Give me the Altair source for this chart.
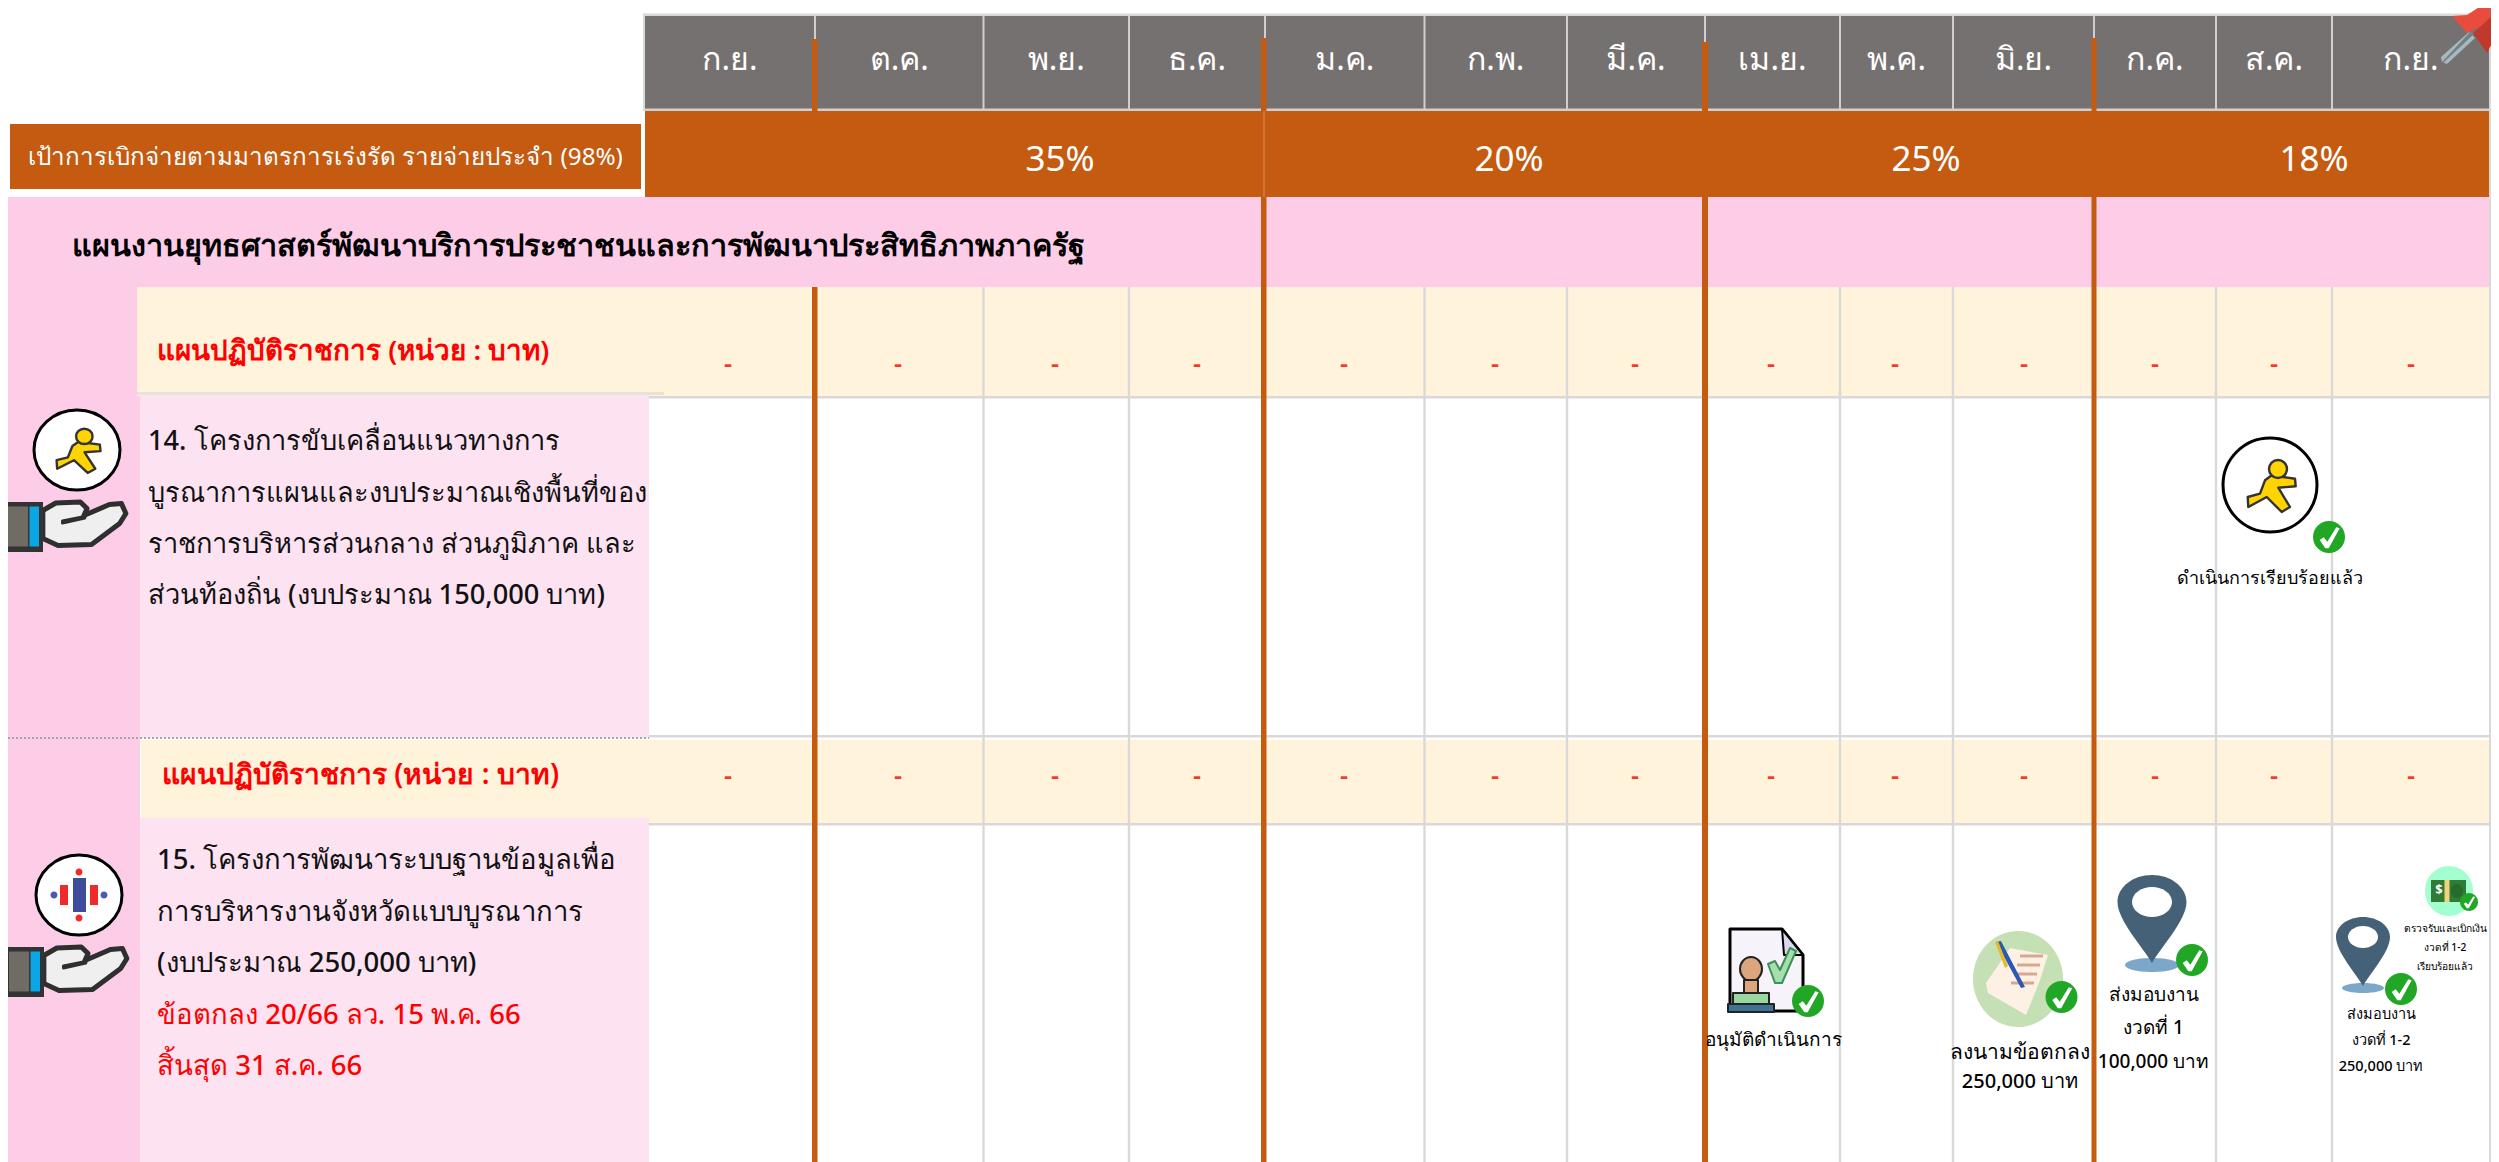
import altair as alt
import pandas as pd

# ---------- values ----------
MONTHS = ["ก.ย.", "ต.ค.", "พ.ย.", "ธ.ค.", "ม.ค.", "ก.พ.", "มี.ค.", "เม.ย.", "พ.ค.", "มิ.ย.", "ก.ค.", "ส.ค.", "ก.ย."]
QUARTER_TARGETS = ["35%", "20%", "25%", "18%"]
TARGET_LABEL = "เป้าการเบิกจ่ายตามมาตรการเร่งรัด รายจ่ายประจำ (98%)"
PLAN_TITLE = "แผนงานยุทธศาสตร์พัฒนาบริการประชาชนและการพัฒนาประสิทธิภาพภาครัฐ"
ROW_LABEL = "แผนปฏิบัติราชการ (หน่วย : บาท)"
MONTHLY_PLAN = ["-"] * 13
PROJECT_14 = ["14. โครงการขับเคลื่อนแนวทางการ", "บูรณาการแผนและงบประมาณเชิงพื้นที่ของ",
              "ราชการบริหารส่วนกลาง ส่วนภูมิภาค และ", "ส่วนท้องถิ่น (งบประมาณ 150,000 บาท)"]
PROJECT_15 = ["15. โครงการพัฒนาระบบฐานข้อมูลเพื่อ", "การบริหารงานจังหวัดแบบบูรณาการ", "(งบประมาณ 250,000 บาท)"]
PROJECT_15_RED = ["ข้อตกลง 20/66 ลว. 15 พ.ค. 66", "สิ้นสุด 31 ส.ค. 66"]

# ---------- layout of the table (page pixels) ----------
EDGES = [645, 815, 983.5, 1129, 1265, 1424.5, 1567, 1705, 1840, 1953, 2094, 2216, 2332, 2490]
DASH_X = [728, 898, 1055, 1197, 1344, 1495, 1635, 1771, 1895, 2024, 2155, 2274, 2411]
TARGET_X = [1060, 1509, 1926, 2314]
GREY_X = [983.5, 1129, 1424.5, 1567, 1840, 1953, 2216, 2332]

GREY, ORANGE, PINK, LPINK, CREAM, LINE, HLINE = "#767171", "#C55A11", "#FDCDE8", "#FDE3F1", "#FFF3DC", "#D9D9D9", "#D0CECE"
RED, GREEN = "#FF0000", "#21A625"
FONT = "Noto Sans"

rects = []
def R(x, x2, y, y2, c):
    rects.append(dict(x=x, x2=x2, y=y, y2=y2, c=c))

R(645, 2489, 16, 109, GREY)
R(645, 2489, 111, 197, ORANGE)
R(10, 641, 124, 189, ORANGE)
R(8, 2489, 197, 287, PINK)
R(8, 140, 287, 1162, PINK)
R(137, 2489, 287, 396, CREAM)
R(141, 2489, 740, 823, CREAM)
R(649, 2489, 396, 398.5, LINE)
R(649, 2489, 735, 737.5, LINE)
R(649, 2489, 823, 825.5, LINE)
for gx in GREY_X:
    R(gx - 1.2, gx + 1.2, 287, 1162, LINE)
R(137, 664, 392, 395, "#E7E3DA")
R(140, 649, 395, 738, LPINK)
R(140, 649, 818, 1162, LPINK)
R(2489, 2491, 197, 1162, LINE)
R(643, 2491, 13.5, 16, LINE)
R(643, 645, 13.5, 111, LINE)
R(2489, 2491, 13.5, 200, LINE)
R(645, 2489, 108.5, 111, HLINE)
for e in EDGES[1:-1]:
    R(e - 1, e + 1, 16, 110, HLINE)
R(815 - 3, 815 + 2.5, 39, 111, ORANGE)
R(815 - 3, 815 + 2.5, 287, 1162, ORANGE)
R(1264 - 3, 1264 + 2.5, 38, 111, ORANGE)
R(1264 - 3, 1264 + 2.5, 197, 1162, ORANGE)
R(1264 - .6, 1264 + .6, 111, 197, "#D9854E")
R(1705 - 3, 1705 + 3, 42, 111, ORANGE)
R(1705 - 3, 1705 + 3, 197, 1162, ORANGE)
R(2094 - 2.5, 2094 + 2.5, 38, 111, ORANGE)
R(2094 - 2.5, 2094 + 2.5, 197, 1162, ORANGE)

texts = []
def T(s, x, y, size, color="#000000", weight="500", align="center"):
    texts.append(dict(t=s, x=x, y=y, size=size, color=color, weight=weight, align=align))

for i, m in enumerate(MONTHS):
    T(m, (EDGES[i] + EDGES[i + 1]) / 2, 60, 32, "#FFFFFF", "400")
for p, px in zip(QUARTER_TARGETS, TARGET_X):
    T(p, px, 160, 35, "#FFFFFF", "400")
T(TARGET_LABEL, 28, 158, 24.2, "#FFFFFF", "400", align="left")
T(PLAN_TITLE, 72, 247, 30.6, weight="700", align="left")
T(ROW_LABEL, 157, 352, 27.8, RED, "600", "left")
T(ROW_LABEL, 162, 776, 28.2, RED, "600", "left")
for d, dx in zip(MONTHLY_PLAN, DASH_X):
    T(d, dx, 364, 25, "#F03A2A", "600")
    T(d, dx, 776, 25, "#F03A2A", "600")
for i, s in enumerate(PROJECT_14):
    T(s, 148, [442, 494, 545, 596][i], 27.2, "#111111", "500", "left")
for i, s in enumerate(PROJECT_15):
    T(s, 157, [861, 913, 964][i], 27.5, "#111111", "500", "left")
for i, s in enumerate(PROJECT_15_RED):
    T(s, 157, [1016, 1067][i], 27.5, RED, "500", "left")
T("ดำเนินการเรียบร้อยแล้ว", 2270, 579, 18)
T("อนุมัติดำเนินการ", 1773, 1040, 19)
T("ลงนามข้อตกลง", 2020, 1053, 21)
T("250,000 บาท", 2020, 1082, 20)
T("ส่งมอบงาน", 2153.5, 995, 19)
T("งวดที่ 1", 2153.5, 1028, 19)
T("100,000 บาท", 2153.5, 1062, 19)
T("ส่งมอบงาน", 2381, 1015, 14.5)
T("งวดที่ 1-2", 2381, 1041, 14.5)
T("250,000 บาท", 2381, 1067, 14.5)
T("ตรวจรับและเบิกเงิน", 2445, 929, 10.2)
T("งวดที่ 1-2", 2445, 948, 10.2)
T("เรียบร้อยแล้ว", 2445, 967, 10.2)
T("$", 2439, 890, 13, "#FFFFFF", "700")

# ---------- icons: custom symbol paths, drawn with size=4 so a path unit is one pixel ----------
parts = []
def poly(points, sx=1.0, sy=1.0):
    return "M" + "L".join(f"{px*sx:.2f},{py*sy:.2f}" for px, py in points) + "Z"
def ell(rx, ry, cx=0, cy=0):
    return f"M{cx-rx:.2f},{cy:.2f}A{rx:.2f},{ry:.2f} 0 1,1 {cx+rx:.2f},{cy:.2f}A{rx:.2f},{ry:.2f} 0 1,1 {cx-rx:.2f},{cy:.2f}Z"
def P(x, y, path, fill, stroke="#000000", sw=0):
    parts.append(dict(x=x, y=y, path=path, fill=fill, stroke=stroke, sw=sw))

TICK = [(-9.3, 3), (-5.3, .3), (-1.7, 4.7), (7.3, -9.7), (10.7, -8.7), (-.3, 11.3), (-3.7, 11.3)]
def check(x, y, r=16):
    P(x, y, ell(r, r), GREEN)
    P(x, y, poly(TICK, r / 16, r / 16), "#FFFFFF")

RUN_BODY = [(1.7, -9.7), (25, -6.3), (25.7, 1.3), (8.3, 2.7), (20, 22), (11.7, 27), (-3.3, 12),
            (-21.7, 22), (-22.3, 12), (-10, 8.7), (-5, -4.7)]
def runner(x, y, rx, ry):
    sx, sy = rx / 47, ry / 47
    P(x, y, ell(rx, ry), "#FFFFFF", "#000000", 3)
    P(x, y, poly(RUN_BODY, sx, sy), "#FFD400", "#333333", 2.4)
    P(x, y, ell(9 * sx, 9 * sy, 8 * sx, -16 * sy), "#FFD400", "#333333", 2.4)

HAND = [(96, 262), (125, 247), (180, 245), (195, 258), (188, 272), (245, 250), (272, 248), (282, 268),
        (268, 288), (205, 330), (130, 332), (96, 318)]
FOLD = [(140, 283), (190, 274), (190, 277), (140, 287)]
def hand(dx, dy):
    conv = lambda pts: [(a / 2.24, (b - 245) / 2) for a, b in pts]
    P(dx, dy, poly(conv(HAND)), "#EFEFEF", "#2F2F2F", 5)
    P(dx, dy, poly(conv(FOLD)), "#2F2F2F", "#2F2F2F", 3)
    P(dx + 4.5, dy, poly([(0, 0), (38.5, 0), (38.5, 50), (0, 50)]), "#333333")
    P(dx + 8, dy + 4.5, poly([(0, 0), (20, 0), (20, 40), (0, 40)]), "#716B66")
    P(dx + 29.5, dy + 4.5, poly([(0, 0), (9.5, 0), (9.5, 40), (0, 40)]), "#0BA6E6")

def pin(x, top, tip, rx, ry, hole_rx, hole_ry, base_rx, base_ry):
    cy = top + ry
    h = tip - cy
    P(x, tip + 2, ell(base_rx, base_ry), "#7BA7C9")
    P(x, cy, f"M{-rx:.1f},0A{rx:.1f},{ry:.1f} 0 1,1 {rx:.1f},0C{rx:.1f},{h*.3:.1f} {rx*.25:.1f},{h*.75:.1f} 0,{h:.1f}C{-rx*.25:.1f},{h*.75:.1f} {-rx:.1f},{h*.3:.1f} {-rx:.1f},0Z", "#456178")
    P(x, cy, ell(hole_rx, hole_ry), "#FFFFFF")

# top-right push pin
P(2442, 62, poly([(0, 0), (-1, -5), (27, -30), (33, -24), (5, 2)]), "#A9B8BC")
P(2442, 62, poly([(0, 0), (1, 1), (32, -28), (29, -31)]), "#6F8388")
P(2480, 30, poly([(-28, -14), (-13, -15), (10, -30), (19, -30), (19, -12), (-13, 3)]), "#E74C3C")
P(2480, 30, poly([(-7, 3), (19, -20), (19, 0), (7, 23)]), "#C0392B")

runner(77, 450, 43, 40)
hand(0, 502)
runner(2270, 485, 47, 47)
check(2329, 537)

# project 15 side icon
P(79, 895, ell(43, 40), "#FFFFFF", "#000000", 3)
P(79, 895, poly([(-6, -17), (7, -17), (7, 17), (-6, 17)]), "#3F4C9C")
P(64, 895, poly([(-4, -10), (4, -10), (4, 10), (-4, 10)]), "#EE2A2A")
P(94, 895, poly([(-4, -10), (4, -10), (4, 10), (-4, 10)]), "#EE2A2A")
P(54, 895, ell(3.5, 3.5), "#4A5AB0")
P(104, 895, ell(3.5, 3.5), "#4A5AB0")
P(79, 872, ell(3.5, 3.5), "#EE2A2A")
P(79, 918, ell(3.5, 3.5), "#EE2A2A")
hand(1, 947)

# approval stamp document
P(1766, 970, poly([(-36, -41), (16, -41), (37, -15), (37, 41), (-36, 41)]), "#F6F4FA", "#000000", 3)
P(1766, 970, poly([(16, -41), (37, -15), (18, -15)]), "#DAD7EC", "#000000", 2)
P(1751, 970, ell(11, 12, 0, -1), "#DBA67E", "#222222", 2)
P(1751, 985, poly([(-7, -5), (7, -5), (7, 8), (-7, 8)]), "#DBA67E", "#222222", 2)
P(1751, 1000, poly([(-18, -7), (18, -7), (18, 6), (-18, 6)]), "#98D8A0", "#222222", 2)
P(1751, 1008, poly([(-23, -4), (23, -4), (23, 4), (-23, 4)]), "#3E7395", "#222222", 2)
P(1782, 966, poly([(-14, -2), (-7, -5), (-2, 4), (8, -18), (14, -15), (0, 17), (-7, 17)]), "#A6DFAE", "#3E8F5A", 2)
check(1808, 1001)

# signed contract
P(2018, 979, ell(45, 48), "#C5E0B4")
P(2020, 980, poly([(-10, -32), (28, -25), (20, 0), (6, 35), (-32, 13), (-34, 3)]), "#FDF1E5")
for i in range(4):
    P(2031 - i * 3, 956 + i * 9, poly([(-11, -1.5), (12, -1.5), (12, 1.5), (-11, 1.5)]), "#D8A88C")
P(2010, 965, poly([(-14, -23), (-9, -24), (15, 22), (11, 23)]), "#2B58B4")
P(2006, 960, poly([(-11, -18), (-8, -19), (2, 6), (-1, 8)]), "#E4B92B")
check(2061.5, 997)

pin(2152, 875, 963, 34.5, 27, 20, 15, 27, 7)
check(2192, 960)
pin(2363, 917, 986, 27, 20, 15, 11, 21, 5)
check(2401, 989)

# payment
P(2449, 891, ell(24, 25), "#A3FFCF")
P(2448.5, 891, poly([(-17.5, -11), (17.5, -11), (17.5, 11), (-17.5, 11)]), "#2F7D34")
P(2457, 891, ell(6, 7), "#276B2C")
P(2447, 891, poly([(-2.5, -11), (2.5, -11), (2.5, 11), (-2.5, 11)]), "#F3D27E")
check(2469, 902, 9)

# ---------- chart ----------
X = alt.X("x:Q", scale=alt.Scale(domain=[8, 2491], nice=False, zero=False), axis=None)
Y = alt.Y("y:Q", scale=alt.Scale(domain=[1162, 8], nice=False, zero=False), axis=None)

rect_layer = alt.Chart(pd.DataFrame(rects)).mark_rect(strokeWidth=0).encode(
    x=X, x2="x2:Q", y=Y, y2="y2:Q", fill=alt.Fill("c:N", scale=None))

dotted_layer = alt.Chart(pd.DataFrame([dict(x=8, x2=649, y=738)])).mark_rule(
    color="#A6A6A6", strokeWidth=2, strokeDash=[2, 2]).encode(x=X, x2="x2:Q", y=Y)

icon_layer = alt.Chart(pd.DataFrame(parts)).mark_point(filled=True, opacity=1, strokeJoin="round").encode(
    x=X, y=Y,
    shape=alt.Shape("path:N", scale=None),
    size=alt.value(4),
    fill=alt.Fill("fill:N", scale=None),
    stroke=alt.Stroke("stroke:N", scale=None),
    strokeWidth=alt.StrokeWidth("sw:Q", scale=None),
    order=alt.Order("idx:Q"),
).transform_window(idx="row_number()")

tdf = pd.DataFrame(texts)
text_layers = []
for (al, wt), g in tdf.groupby(["align", "weight"]):
    text_layers.append(
        alt.Chart(g).mark_text(align=al, baseline="middle", font=FONT, fontWeight=int(wt)).encode(
            x=X, y=Y, text="t:N",
            size=alt.Size("size:Q", scale=None),
            color=alt.Color("color:N", scale=None))
    )

chart = alt.layer(rect_layer, dotted_layer, icon_layer, *text_layers).properties(
    width=2483, height=1154, padding=0,
    autosize=alt.AutoSizeParams(type="none"),
    background="#FFFFFF",
).configure_view(stroke=None)

chart.save("out.html", embed_options={"renderer": "svg", "actions": False})
